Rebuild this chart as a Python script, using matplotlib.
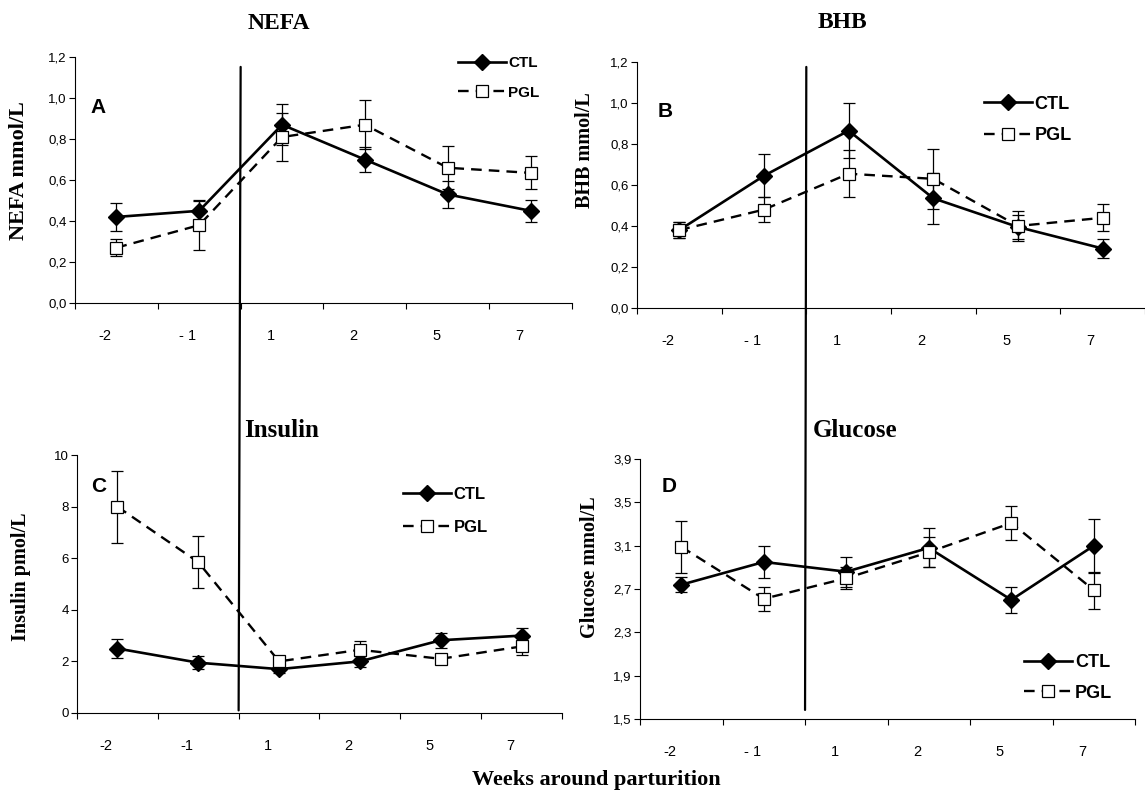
import matplotlib
matplotlib.use("Agg")
import matplotlib.pyplot as plt
from matplotlib.patches import ConnectionPatch
from matplotlib.ticker import FixedLocator, FuncFormatter

SANS = "Liberation Sans"
SERIF = "Liberation Serif"

# week labels around parturition (category axis)
weeks = ["-2", "- 1", "1", "2", "5", "7"]
weeks_insulin = ["-2", "-1", "1", "2", "5", "7"]

# NEFA, mmol/L
nefa_ctl = [0.42, 0.45, 0.87, 0.70, 0.53, 0.45]
nefa_ctl_err = [0.07, 0.055, 0.10, 0.063, 0.065, 0.055]
nefa_pgl = [0.27, 0.38, 0.81, 0.87, 0.66, 0.635]
nefa_pgl_err = [0.04, 0.12, 0.115, 0.12, 0.105, 0.08]

# BHB, mmol/L
bhb_ctl = [0.38, 0.645, 0.865, 0.535, 0.395, 0.29]
bhb_ctl_err = [0.04, 0.105, 0.135, 0.125, 0.06, 0.045]
bhb_pgl = [0.38, 0.48, 0.655, 0.63, 0.40, 0.44]
bhb_pgl_err = [0.04, 0.06, 0.115, 0.145, 0.072, 0.065]

# Insulin, pmol/L
ins_ctl = [2.5, 1.95, 1.7, 2.0, 2.82, 3.0]
ins_ctl_err = [0.38, 0.25, 0.15, 0.2, 0.3, 0.3]
ins_pgl = [8.0, 5.85, 2.0, 2.45, 2.1, 2.58]
ins_pgl_err = [1.4, 1.0, 0.15, 0.36, 0.15, 0.35]

# Glucose, mmol/L
glu_ctl = [2.74, 2.95, 2.86, 3.08, 2.60, 3.10]
glu_ctl_err = [0.07, 0.15, 0.14, 0.18, 0.12, 0.25]
glu_pgl = [3.09, 2.61, 2.80, 3.04, 3.31, 2.69]
glu_pgl_err = [0.24, 0.11, 0.10, 0.14, 0.16, 0.17]


def comma_formatter(decimals):
    def fmt(v, _pos):
        return f"{v:.{decimals}f}".replace(".", ",")
    return FuncFormatter(fmt)


def draw_panel(ax, ctl, ctl_err, pgl, pgl_err, labels, yticks, decimals,
               ylabel, ylabel_xy, ylabel_size, letter, letter_xy, title,
               title_xy, title_ha, title_size, legend_xy, legend_size,
               legend_spacing):
    x = [i + 0.5 for i in range(len(labels))]

    ax.errorbar(x, ctl, yerr=ctl_err, fmt="none", ecolor="black",
                elinewidth=0.9, capsize=4.5, capthick=0.9, zorder=2)
    ax.plot(x, ctl, color="black", lw=1.9, marker="D", ms=8,
            mfc="black", mec="black", label="CTL", zorder=3)
    ax.errorbar(x, pgl, yerr=pgl_err, fmt="none", ecolor="black",
                elinewidth=0.9, capsize=4.5, capthick=0.9, zorder=4)
    ax.plot(x, pgl, color="black", lw=1.7, ls=(0, (4.5, 3)), marker="s",
            ms=8.5, mfc="white", mec="black", mew=0.9, label="PGL", zorder=5)

    ax.set_xlim(0, len(labels))
    ax.set_ylim(yticks[0], yticks[-1])
    for side in ("top", "right"):
        ax.spines[side].set_visible(False)
    for side in ("left", "bottom"):
        ax.spines[side].set_linewidth(0.8)

    # ticks sit on category boundaries, labels sit under the categories
    ax.xaxis.set_major_locator(FixedLocator(range(len(labels) + 1)))
    ax.xaxis.set_minor_locator(FixedLocator([p - 0.14 for p in x]))
    ax.set_xticklabels([], minor=False)
    ax.set_xticklabels(labels, minor=True, fontfamily=SANS, fontsize=10.5)
    ax.tick_params(axis="x", which="major", direction="out", length=4, width=0.8)
    ax.tick_params(axis="x", which="minor", length=0, pad=19)

    ax.yaxis.set_major_locator(FixedLocator(yticks))
    ax.yaxis.set_major_formatter(comma_formatter(decimals))
    ax.tick_params(axis="y", direction="out", length=4, width=0.8, pad=2,
                   labelsize=9.5)
    for lbl in ax.get_yticklabels():
        lbl.set_fontfamily(SANS)

    ax.set_ylabel(ylabel, fontfamily=SERIF, fontweight="bold",
                  fontsize=ylabel_size)
    ax.yaxis.set_label_coords(*ylabel_xy)

    ax.text(*letter_xy, letter, transform=ax.transAxes, fontfamily=SANS,
            fontweight="bold", fontsize=15, ha="center", va="center")
    ax.text(*title_xy, title, transform=ax.transAxes, fontfamily=SERIF,
            fontweight="bold", fontsize=title_size, ha=title_ha, va="center")

    # handle of roughly 48 px whatever the legend font size
    ax.legend(loc="upper left", bbox_to_anchor=legend_xy, frameon=False,
              borderpad=0, borderaxespad=0,
              handlelength=48 / (legend_size * 100 / 72),
              handletextpad=0.15, labelspacing=legend_spacing,
              prop=dict(family=SANS, weight="bold", size=legend_size))


fig = plt.figure(figsize=(11.45, 7.96), dpi=100)
ax_a = fig.add_axes([0.0655, 0.6193, 0.434, 0.309])
ax_b = fig.add_axes([0.5563, 0.6131, 0.4437, 0.309])
ax_c = fig.add_axes([0.0672, 0.1043, 0.4236, 0.324])
ax_d = fig.add_axes([0.559, 0.0967, 0.4323, 0.3266])

draw_panel(ax_a, nefa_ctl, nefa_ctl_err, nefa_pgl, nefa_pgl_err, weeks,
           [0.0, 0.2, 0.4, 0.6, 0.8, 1.0, 1.2], 1, "NEFA mmol/L",
           (-0.092, 0.54), 16, "A", (0.046, 0.793), "NEFA", (0.41, 1.138),
           "center", 17, (0.77, 1.004), 11, 1.03)
draw_panel(ax_b, bhb_ctl, bhb_ctl_err, bhb_pgl, bhb_pgl_err, weeks,
           [0.0, 0.2, 0.4, 0.6, 0.8, 1.0, 1.2], 1, "BHB mmol/L",
           (-0.083, 0.64), 14.5, "B", (0.055, 0.797), "BHB", (0.404, 1.159),
           "center", 17, (0.683, 0.863), 13, 0.8)
draw_panel(ax_c, ins_ctl, ins_ctl_err, ins_pgl, ins_pgl_err, weeks_insulin,
           [0, 2, 4, 6, 8, 10], 0, "Insulin pmol/L",
           (-0.095, 0.527), 14.5, "C", (0.045, 0.88), "Insulin",
           (0.345, 1.097), "left", 18, (0.672, 0.876), 12, 1.05)
draw_panel(ax_d, glu_ctl, glu_ctl_err, glu_pgl, glu_pgl_err, weeks,
           [1.5, 1.9, 2.3, 2.7, 3.1, 3.5, 3.9], 1, "Glucose mmol/L",
           (-0.081, 0.585), 14.5, "D", (0.059, 0.896), "Glucose",
           (0.348, 1.11), "left", 18, (0.776, 0.25), 13, 0.75)

# calving marker running through both rows
for top, bottom, y_top, y_bot in ((ax_a, ax_c, 0.96, 0.01),
                                  (ax_b, ax_d, 0.98, 0.035)):
    con = ConnectionPatch(xyA=(2, y_top), coordsA=top.get_xaxis_transform(),
                          xyB=(2, y_bot), coordsB=bottom.get_xaxis_transform(),
                          color="black", lw=1.6, zorder=10)
    fig.add_artist(con)

fig.text(0.5205, 0.02, "Weeks around parturition", fontfamily=SERIF,
         fontweight="bold", fontsize=16, ha="center", va="center")

fig.savefig("out.png", dpi=100)
